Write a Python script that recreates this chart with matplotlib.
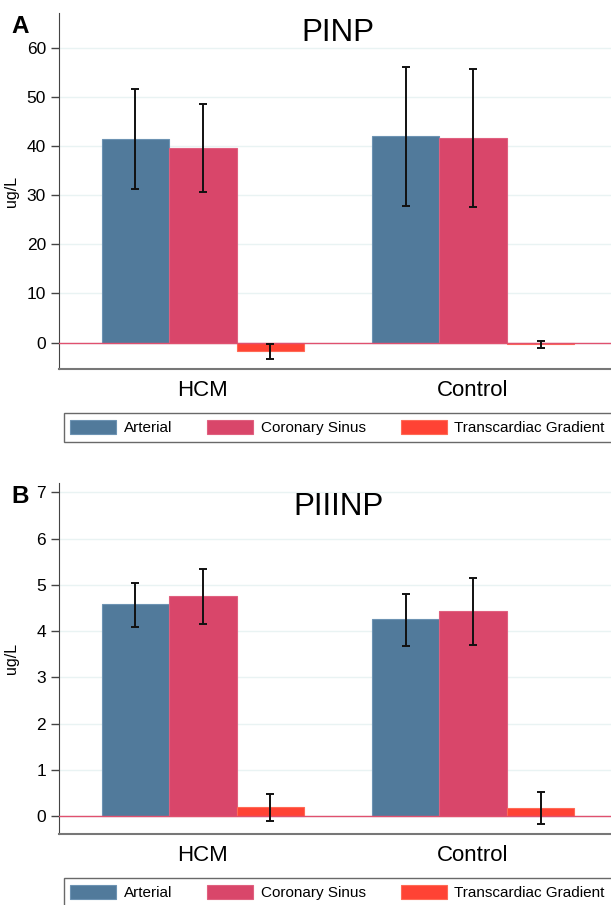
import numpy as np
import matplotlib.pyplot as plt
from matplotlib.patches import Patch

plt.rcParams['font.family'] = ['Liberation Sans', 'DejaVu Sans']

groups = ['HCM', 'Control']
series = ['Arterial', 'Coronary Sinus', 'Transcardiac Gradient']
colors = ['#517a9b', '#d9466a', '#ff4334']
edges = ['#6d93b3', '#e0607f', '#ff6a55']

# panel A: PINP (ug/L)
pinp = [[41.6, 42.2], [39.7, 41.8], [-1.8, -0.3]]
pinp_lo = [[31.3, 27.9], [30.6, 27.6], [-3.3, -1.1]]
pinp_hi = [[51.6, 56.2], [48.6, 55.7], [-0.2, 0.4]]

# panel B: PIIINP (ug/L)
piiinp = [[4.58, 4.26], [4.77, 4.44], [0.21, 0.19]]
piiinp_lo = [[4.08, 3.69], [4.16, 3.70], [-0.10, -0.16]]
piiinp_hi = [[5.05, 4.80], [5.35, 5.14], [0.48, 0.52]]

W, H = 611, 905
fig = plt.figure(figsize=(W / 100, H / 100), dpi=100)


def make_panel(top, bottom, title, letter, vals, lo, hi, yticks, ylim, title_y, leg_top):
    left, right = 58.5, 617.5
    ax = fig.add_axes([left / W, 1 - bottom / H, (right - left) / W, (bottom - top) / H])
    x = np.arange(len(groups))
    w = 0.25
    for i in range(3):
        v = np.array(vals[i])
        err = [v - np.array(lo[i]), np.array(hi[i]) - v]
        ax.bar(x + (i - 1) * w, v, w, color=colors[i], edgecolor=edges[i], linewidth=0.8, zorder=2)
        ax.errorbar(x + (i - 1) * w, v, yerr=err, fmt='none', ecolor='#111111',
                    elinewidth=1.4, capsize=3, capthick=1.4, zorder=4)
    ax.axhline(0, color='#e0506f', linewidth=1, zorder=3)
    ax.set_xlim(-0.535, 1.535)
    ax.set_ylim(*ylim)
    ax.set_yticks(yticks)
    ax.set_xticks(x)
    ax.set_xticklabels(groups, fontsize=16)
    ax.tick_params(axis='x', length=0, pad=8)
    ax.tick_params(axis='y', length=6, width=1, pad=3, labelsize=12.5, color='#444444')
    ax.grid(axis='y', color='#e9f3f3', linewidth=1, zorder=0)
    ax.set_axisbelow(True)
    for s in ['top', 'right']:
        ax.spines[s].set_visible(False)
    ax.spines['left'].set_color('#444444')
    ax.spines['bottom'].set_color('#777777')
    ax.spines['bottom'].set_linewidth(1.5)
    ax.set_ylabel('ug/L', fontsize=11.5)
    ax.yaxis.set_label_coords(-0.07, 0.5)
    ax.text(0.5, title_y, title, transform=ax.transAxes, ha='center', va='center', fontsize=22.5)
    fig.text(20.5 / W, 1 - (top + 13.5) / H, letter, ha='center', va='center',
             fontsize=17.5, fontweight='bold')
    handles = [Patch(facecolor=colors[i], edgecolor=edges[i], linewidth=0.8) for i in range(3)]
    leg = fig.legend(handles, series, loc='upper left', bbox_to_anchor=(63.5 / W, 1 - leg_top / H),
                     ncol=3, fontsize=11, frameon=True, fancybox=False, handlelength=3.0,
                     handleheight=1.05, handletextpad=0.5, columnspacing=2.3, borderpad=0.45,
                     borderaxespad=0)
    leg.get_frame().set_edgecolor('#444444')
    leg.get_frame().set_linewidth(1.0)
    return ax


make_panel(13, 369, 'PINP', 'A', pinp, pinp_lo, pinp_hi, np.arange(0, 61, 10), (-5.4, 67.2), 0.944, 413)
make_panel(483, 834, 'PIIINP', 'B', piiinp, piiinp_lo, piiinp_hi, np.arange(0, 8, 1), (-0.38, 7.2), 0.932, 878)

fig.savefig('out.png', dpi=100)
